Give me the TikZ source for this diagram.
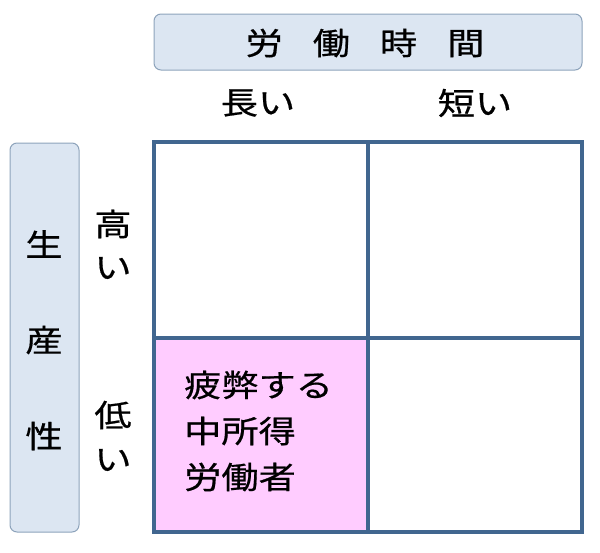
\documentclass[tikz,border=0pt]{standalone}
\usepackage{fontspec}
\newfontfamily\jp[FakeStretch=1.2,FakeBold=0.6]{Noto Sans CJK JP}
\definecolor{gridc}{HTML}{41668F}
\definecolor{hdrfill}{HTML}{DCE6F2}
\definecolor{hdrline}{HTML}{8DA3BB}
\definecolor{pinkc}{HTML}{FFCCFF}
\begin{document}
\begin{tikzpicture}[x=1pt,y=1pt,
  hdr/.style={draw=hdrline,line width=1pt,fill=hdrfill,rounded corners=7pt},
  lbl/.style={font=\jp\fontsize{31}{31}\selectfont,inner sep=0pt,text=black},
  cell/.style={draw=gridc,line width=3.5pt}]
\useasboundingbox (0,0) rectangle (600,-552);
% header boxes
\draw[hdr] (154,-14) rectangle (582,-70);
\draw[hdr] (10,-143) rectangle (79,-532);
\node[lbl] (top) at (365,-43) {労\hspace{30pt}働\hspace{30pt}時\hspace{30pt}間};
\node[lbl] (s1) at (44,-244) {生};
\node[lbl] (s2) at (44,-340) {産};
\node[lbl] (s3) at (44,-436) {性};
% column headers
\node[lbl] (long) at (258,-103) {長い};
\node[lbl] (short) at (475,-103) {短い};
% row headers
\node[lbl] (hi1) at (113,-224) {高};
\node[lbl] (hi2) at (113,-268) {い};
\node[lbl] (lo1) at (113,-415) {低};
\node[lbl] (lo2) at (113,-460) {い};
% grid
\fill[pinkc] (154,-338) rectangle (368,-532);
\draw[cell] (154,-142) rectangle (582,-532);
\draw[cell] (368,-142) -- (368,-532);
\draw[cell] (154,-338) -- (582,-338);
% cell text
\node[lbl,anchor=west] (t1) at (184,-385) {疲弊する};
\node[lbl,anchor=west] (t2) at (184,-431) {中所得};
\node[lbl,anchor=west] (t3) at (184,-477) {労働者};
\end{tikzpicture}
\end{document}
